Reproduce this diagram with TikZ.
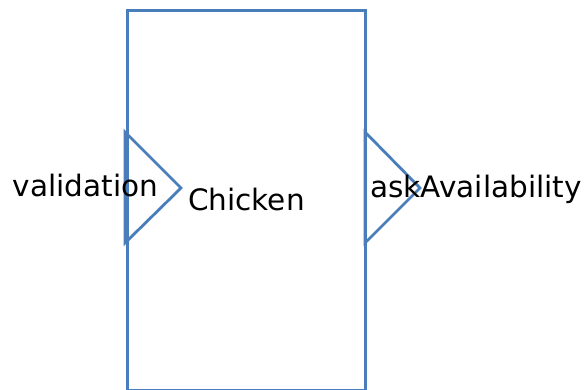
\documentclass[tikz,border=0pt]{standalone}
\usepackage{fontspec}
\setmainfont{DejaVu Sans}
\definecolor{portblue}{RGB}{74,126,187}
\begin{document}
\begin{tikzpicture}[x=1pt,y=-1pt,
  box/.style={draw=portblue,line width=3pt,minimum width=237.5pt,minimum height=379.5pt,inner sep=0pt,anchor=north west},
  port/.style={draw=portblue,line width=2.8pt,line join=miter},
  lbl/.style={anchor=base,inner sep=0pt,font=\fontsize{29.5pt}{35pt}\selectfont,text=black}]
\useasboundingbox (0,0) rectangle (584,390);
\node[box] (comp) at (126,9.5) {};
\coordinate (lt) at (125,132);
\coordinate (lb) at (125,243);
\coordinate (la) at (181,188);
\coordinate (rt) at (365,132);
\coordinate (rb) at (365,243);
\coordinate (ra) at (420,188);
\draw[port] (lt) -- (la) -- (lb) -- cycle;
\draw[port] (rt) -- (ra) -- (rb) -- cycle;
\node[lbl] (inlbl) at (85.5,197) {validation};
\node[lbl] (name) at (246.5,211) {Chicken};
\node[lbl] (outlbl) at (476,198) {askAvailability};
\end{tikzpicture}
\end{document}
